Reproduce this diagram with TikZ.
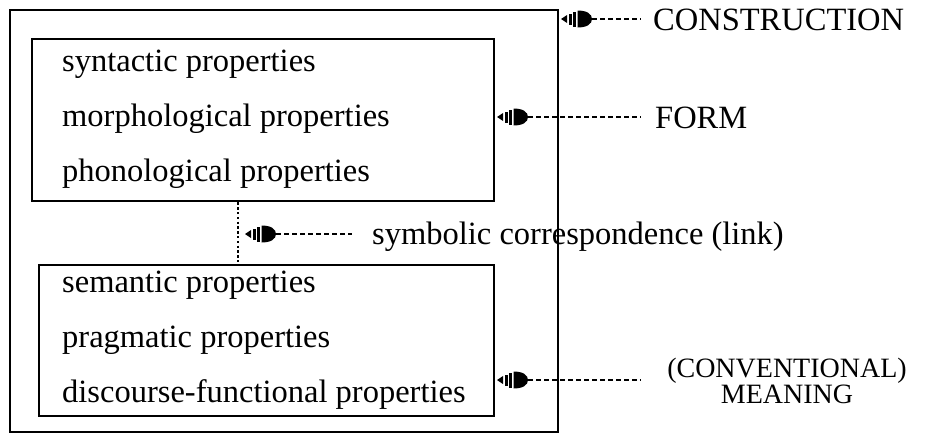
\documentclass[tikz,border=0pt]{standalone}
\usepackage{fontspec}
\setmainfont{Liberation Serif}
\begin{document}
\begin{tikzpicture}[x=1pt,y=-1pt,
  box/.style={draw, line width=2.4pt, rectangle, inner sep=0pt, anchor=north west},
  prop/.style={anchor=base west, inner sep=0pt, font=\fontsize{32.5}{36}\selectfont},
  lab/.style={inner sep=0pt, font=\fontsize{32.5}{36}\selectfont},
  linkline/.style={dash pattern=on 5pt off 3pt, line width=2.1pt},
  vlink/.style={dash pattern=on 2.4pt off 2.4pt, line width=2.4pt},
  speaker/.pic={
    \fill (0,0) -- (6,-4) -- (6,4) -- cycle;
    \fill (7.5,-5.5) rectangle (10.5,5.5);
    \fill (12,-7.5) rectangle (15,7.5);
    \fill (16.5,-8.5) .. controls (26,-8.5) and (31,-5) .. (31,0)
          .. controls (31,5) and (26,8.5) .. (16.5,8.5) -- cycle;
  }
]
\useasboundingbox (0,0) rectangle (935,434);

% boxes
\node[box, minimum width=548pt, minimum height=422pt] (outer) at (9,9) {};
\node[box, minimum width=462pt, minimum height=162pt] (form) at (31,38) {};
\node[box, minimum width=455pt, minimum height=151pt] (meaning) at (38,264) {};

% properties
\node[prop] (p1) at (62,71) {syntactic properties};
\node[prop] (p2) at (62,126) {morphological properties};
\node[prop] (p3) at (62,181) {phonological properties};
\node[prop] (p4) at (62,292) {semantic properties};
\node[prop] (p5) at (62,347) {pragmatic properties};
\node[prop] (p6) at (62,402) {discourse-functional properties};

% vertical symbolic link
\coordinate (dl) at (238,0);
\draw[vlink] (form.south -| dl) -- (meaning.north -| dl);

% labels
\node[lab, anchor=base west] (tcon) at (653,30) {CONSTRUCTION};
\node[lab, anchor=base west] (tform) at (655,128) {FORM};
\node[lab, anchor=base west] (tsym) at (372,244) {symbolic correspondence (link)};
\node[lab, align=center, font=\fontsize{28}{24}\selectfont] (tmean) at (787,381) {(CONVENTIONAL)\\MEANING};

% markers
\coordinate (m1) at (561,19);
\coordinate (m2) at (497,117);
\coordinate (m3) at (245,234);
\coordinate (m4) at (497,380);
\pic at (m1) {speaker};
\pic at (m2) {speaker};
\pic at (m3) {speaker};
\pic at (m4) {speaker};
\draw[linkline, shorten <=31pt, shorten >=12pt] (m1) -- (tcon.west |- m1);
\draw[linkline, shorten <=31pt, shorten >=14pt] (m2) -- (tform.west |- m2);
\draw[linkline, shorten <=31pt, shorten >=20pt] (m3) -- (tsym.west |- m3);
\draw[linkline, shorten <=31pt, shorten >=26pt] (m4) -- (tmean.west |- m4);
\end{tikzpicture}
\end{document}
